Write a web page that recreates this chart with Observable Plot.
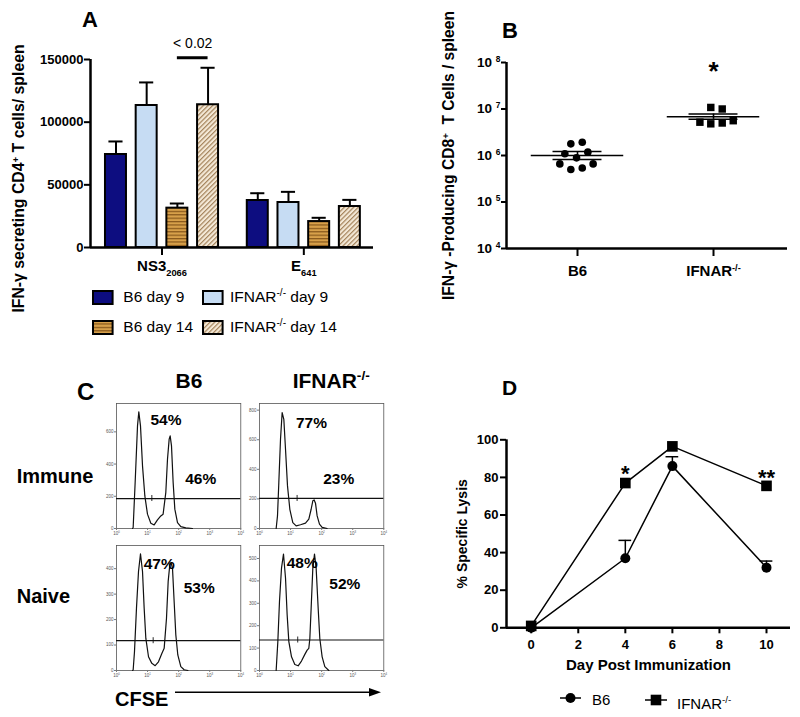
<!DOCTYPE html>
<html><head><meta charset="utf-8">
<script src="https://cdn.jsdelivr.net/npm/d3@7"></script>
<script src="https://cdn.jsdelivr.net/npm/@observablehq/plot@0.6"></script>
<style>
body{margin:0;background:#fff;font-family:"Liberation Sans",Arial,Helvetica,sans-serif;}
#fig{position:relative;width:800px;height:717px;overflow:hidden;background:#fff;}
.lbl{position:absolute;line-height:1;white-space:nowrap;color:#000;}
.lbl sup,.lbl sub{line-height:0;font-size:65%;}
</style></head><body>
<svg width="0" height="0" style="position:absolute">
<defs>
<pattern id="patStripe" patternUnits="userSpaceOnUse" width="6" height="3.4">
<rect width="6" height="3.4" fill="#d7a04a"/><rect width="6" height="1.2" fill="#86561a"/>
</pattern>
<pattern id="patHatch" patternUnits="userSpaceOnUse" width="3.3" height="3.3" patternTransform="rotate(45)">
<rect width="3.3" height="3.3" fill="#f4e9d7"/><rect width="1.2" height="3.3" fill="#a5845c"/>
</pattern>
</defs></svg>
<div id="fig"></div>
<script>
// ---------------- DATA ----------------
// Panel A
const groupsA = ["NS3_{2066}", "E_{641}"];
const seriesA = ["B6 day 9", "IFNAR^{-/-} day 9", "B6 day 14", "IFNAR^{-/-} day 14"];
const fillsA = ["#0d0d80", "#c6dcf3", "url(#patStripe)", "url(#patHatch)"];
const ns3MeansA = [74200, 113300, 31400, 113900];
const ns3ErrTopA = [84600, 131700, 35100, 143400];
const e641MeansA = [37500, 35900, 20700, 32700];
const e641ErrTopA = [43300, 44400, 23700, 38000];
const yTicksA = [0, 50000, 100000, 150000];
const sigPairA = ["B6 day 14", "IFNAR^{-/-} day 14"];
const sigLabelA = "< 0.02";
const sigLevelA = [151400, 162800]; // bar, label
const yLabelA = "IFN-γ secreting CD4^{+} T cells/ spleen";

// Panel B
const groupsB = ["B6", "IFNAR^{-/-}"];
const b6ValuesB = [1.78e6, 1.93e6, 1.09e6, 0.89e6, 1.18e6, 0.66e6, 0.50e6, 0.54e6, 0.66e6];
const b6JitterB = [-0.049, 0.035, -0.093, -0.007, 0.076, -0.13, -0.049, 0.035, 0.115];
const ifnarValuesB = [1.08e7, 1.0e7, 5.2e6, 4.8e6, 5.0e6, 5.6e6];
const ifnarJitterB = [-0.02, 0.064, -0.1, -0.02, 0.064, 0.145];
const meanB = [1.0e6, 6.8e6];
const semHiB = [1.22e6, 7.8e6];
const semLoB = [0.82e6, 6.0e6];
const yTicksB = [1e4, 1e5, 1e6, 1e7, 1e8];
const starB = [{g: 2, y: 6.3e7, t: "*"}];
const yLabelB = "IFN-γ -Producing CD8^{+}  T Cells / spleen";

// Panel C (x = log10 CFSE, y = count)
const histB6Immune = [[0.515,0],[0.536,6],[0.60,286],[0.676,637],[0.718,724],[0.772,637],[0.837,389],[0.912,202],[0.997,89],[1.105,33],[1.212,22],[1.319,53],[1.426,78],[1.50,89],[1.587,224],[1.641,430],[1.695,555],[1.727,575],[1.77,513],[1.823,286],[1.877,120],[1.963,37],[2.07,12],[2.23,4],[2.445,0]];
const histIfnarImmune = [[0.536,0],[0.579,85],[0.622,311],[0.676,603],[0.729,784],[0.783,738],[0.837,536],[0.901,288],[0.976,130],[1.072,40],[1.18,18],[1.319,25],[1.48,36],[1.587,63],[1.662,130],[1.716,187],[1.759,193],[1.802,171],[1.855,85],[1.93,29],[2.016,7],[2.177,0]];
const histB6Naive = [[0.515,0],[0.536,2],[0.579,74],[0.643,245],[0.708,389],[0.772,458],[0.837,389],[0.89,245],[0.944,126],[1.03,54],[1.137,28],[1.244,19],[1.351,34],[1.459,67],[1.534,87],[1.609,205],[1.663,350],[1.716,416],[1.759,422],[1.802,402],[1.855,271],[1.909,140],[1.973,61],[2.07,15],[2.177,3],[2.3,0]];
const histIfnarNaive = [[0.536,0],[0.59,129],[0.643,308],[0.708,457],[0.772,520],[0.837,413],[0.89,248],[0.944,129],[1.03,61],[1.137,27],[1.244,21],[1.351,42],[1.459,72],[1.534,91],[1.587,99],[1.62,143],[1.662,278],[1.716,457],[1.77,520],[1.823,457],[1.888,278],[1.941,143],[2.016,61],[2.102,17],[2.23,0]];
const histCurves = [histB6Immune, histIfnarImmune, histB6Naive, histIfnarNaive];
const histYMax = [776, 845, 491, 558];
const histYTicks = [[0,200,400,600],[0,200,400,600,800],[0,100,200,300,400],[0,100,200,300,400,500]];
const histXTicks = [0, 1, 2, 3, 4];
const gateLevels = [186, 203, 117, 136];
const gateMarks = [1.137, 1.21, 1.18, 1.23];
const pctText = [["54%","46%"],["77%","23%"],["47%","53%"],["48%","52%"]];
const pctX = [[1.59,2.71],[1.673,2.55],[1.373,2.66],[1.373,2.745]];
const pctY = [[673,310],[716,333],[418,323],[480,386]];
const colHeadersC = ["B6", "IFNAR^{-/-}"];
const rowHeadersC = ["Immune", "Naive"];

// Panel D
const daysD = [0, 4, 6, 10];
const b6LysisD = [0, 37, 86, 32];
const b6ErrTopD = [null, 46.5, 91, 35.5];
const ifnarLysisD = [1, 77, 96.5, 75.5];
const starsD = [{day: 4, y: 81.7, t: "*"}, {day: 10, y: 79.7, t: "**"}];
const xTicksD = [0, 2, 4, 6, 8, 10];
const yTicksD = [0, 20, 40, 60, 80, 100];

// ---------------- HELPERS ----------------
const FONT = "'Liberation Sans', Arial, Helvetica, sans-serif";
const fig = document.getElementById("fig");
const svgStyle = (w) => `font-family:${FONT};font-size:13px;font-weight:${w};background:transparent;overflow:visible;color:#000`;
function mk(t){const e=document.createElementNS("http://www.w3.org/2000/svg","tspan");e.textContent=t;return e;}
function richify(root){
  const re=/([_^])\{([^}]*)\}/g;
  root.querySelectorAll("text, tspan").forEach(el=>{
    if([...el.childNodes].some(n=>n.nodeType!==3)) return;
    const s=el.textContent; if(!/[_^]\{/.test(s)) return;
    el.textContent=""; let last=0,m; re.lastIndex=0;
    while((m=re.exec(s))){
      if(m.index>last) el.appendChild(mk(s.slice(last,m.index)));
      const ts=mk(m[2]);
      ts.setAttribute("baseline-shift", m[1]==="^"?"super":"sub");
      ts.setAttribute("font-size","62%");
      el.appendChild(ts); last=re.lastIndex;
    }
    if(last<s.length) el.appendChild(mk(s.slice(last)));
  });
}
const toHTML = s => s.replace(/\^\{([^}]*)\}/g,"<sup>$1</sup>").replace(/_\{([^}]*)\}/g,"<sub>$1</sub>");
function place(el,left,top){el.style.position="absolute";el.style.left=left+"px";el.style.top=top+"px";fig.appendChild(el);richify(el);}
function addLabel(text,x,baseline,fs,weight="bold",anchor="start"){
  const d=document.createElement("div");d.className="lbl";d.innerHTML=toHTML(text);
  d.style.left=x+"px";d.style.top=(baseline-0.8465*fs)+"px";d.style.fontSize=fs+"px";d.style.fontWeight=weight;
  if(anchor==="middle") d.style.transform="translateX(-50%)";
  fig.appendChild(d);
}
function addSvg(html,left,top,w,h){
  const d=document.createElement("div");d.style.position="absolute";d.style.left=left+"px";d.style.top=top+"px";
  d.innerHTML=`<svg width="${w}" height="${h}" style="display:block;overflow:visible">${html}</svg>`;fig.appendChild(d);
}

// ---------------- PANEL A ----------------
const groupGapA = 4.62, halfBarA = 0.342, halfCapA = 0.23;
const barsA = [];
[[ns3MeansA, ns3ErrTopA], [e641MeansA, e641ErrTopA]].forEach(([means, errs], gi) =>
  seriesA.forEach((s, si) => barsA.push({group: groupsA[gi], series: s, pos: gi*groupGapA + si, value: means[si], err: errs[si], fill: fillsA[si]})));
const xMinA = -0.83;
const sigA = [{x1: seriesA.indexOf(sigPairA[0]), x2: seriesA.indexOf(sigPairA[1]), y: sigLevelA[0], ly: sigLevelA[1], t: sigLabelA}];
const plotA = Plot.plot({
  width: 400, height: 290, marginLeft: 90, marginRight: 27, marginTop: 59, marginBottom: 43,
  x: {domain: [xMinA, 8.39]}, y: {domain: [0, 150000]}, color: {type: "identity"},
  style: svgStyle("bold"),
  marks: [
    Plot.rectY(barsA, {x1: d => d.pos - halfBarA, x2: d => d.pos + halfBarA, y1: 0, y2: "value", fill: "fill", stroke: "black", strokeWidth: 2}),
    Plot.ruleX(barsA, {x: "pos", y1: "value", y2: "err", stroke: "black", strokeWidth: 2}),
    Plot.ruleY(barsA, {x1: d => d.pos - halfCapA, x2: d => d.pos + halfCapA, y: "err", stroke: "black", strokeWidth: 2}),
    Plot.ruleY([0], {stroke: "black", strokeWidth: 2.5}),
    Plot.ruleX([xMinA], {y1: 0, y2: 150000, stroke: "black", strokeWidth: 2.5}),
    Plot.axisY({ticks: yTicksA, tickFormat: d3.format("d"), tickSize: 6, tickPadding: 1, strokeWidth: 2, fontSize: 13, label: null}),
    Plot.axisX({ticks: groupsA.map((g, i) => i*groupGapA + 1.5), tickFormat: d => groupsA[d < 3 ? 0 : 1], tickSize: 8, tickPadding: 5, strokeWidth: 2, fontSize: 15, label: null}),
    Plot.ruleY(sigA, {x1: "x1", x2: "x2", y: "y", stroke: "black", strokeWidth: 3}),
    Plot.text(sigA, {x: d => (d.x1 + d.x2)/2, y: "ly", text: "t", fontSize: 14, fontWeight: "normal"}),
    Plot.text([yLabelA], {frameAnchor: "left", rotate: -90, dx: -72, dy: 25, textAnchor: "middle", lineAnchor: "middle", fontSize: 15.8})
  ]
});
place(plotA, 0, 0);

// legend A
const legPosA = [[91.7, 290], [202.3, 290], [91.7, 320], [202.3, 320]];
const legTextX = [123.3, 230, 123.3, 230];
seriesA.forEach((s, i) => {
  const [lx, ly] = legPosA[i];
  addSvg(`<rect x="1" y="1" width="19.6" height="13" fill="${fillsA[i]}" stroke="black" stroke-width="2"/>`, lx, ly, 22, 15);
  addLabel(s, legTextX[i], ly + 12, 15.5, "normal");
});

// ---------------- PANEL B ----------------
const pointsB = [
  ...b6ValuesB.map((v, i) => ({x: 1 + b6JitterB[i], y: v, g: "B6"})),
  ...ifnarValuesB.map((v, i) => ({x: 2 + ifnarJitterB[i], y: v, g: "IFNAR"}))
];
const statsB = meanB.map((m, i) => ({g: i + 1, mean: m, hi: semHiB[i], lo: semLoB[i]}));
const xMinB = 0.478;
const plotB = Plot.plot({
  width: 400, height: 290, marginLeft: 106, marginRight: 13, marginTop: 62, marginBottom: 42,
  x: {domain: [xMinB, 2.544]}, y: {type: "log", domain: [1e4, 1e8]},
  style: svgStyle("bold"),
  marks: [
    Plot.dot(pointsB.filter(d => d.g === "B6"), {x: "x", y: "y", r: 3.8, fill: "black", symbol: "circle"}),
    Plot.dot(pointsB.filter(d => d.g !== "B6"), {x: "x", y: "y", r: 4.2, fill: "black", symbol: "square"}),
    Plot.ruleY(statsB, {x1: d => d.g - 0.34, x2: d => d.g + 0.34, y: "mean", stroke: "black", strokeWidth: 1.6}),
    Plot.ruleY(statsB, {x1: d => d.g - 0.18, x2: d => d.g + 0.18, y: "hi", stroke: "black", strokeWidth: 1.6}),
    Plot.ruleY(statsB, {x1: d => d.g - 0.18, x2: d => d.g + 0.18, y: "lo", stroke: "black", strokeWidth: 1.6}),
    Plot.ruleX(statsB, {x: "g", y1: "lo", y2: "hi", stroke: "black", strokeWidth: 1.6}),
    Plot.ruleY([1e4], {stroke: "black", strokeWidth: 2.5}),
    Plot.ruleX([xMinB], {y1: 1e4, y2: 1e8, stroke: "black", strokeWidth: 2.5}),
    Plot.axisY({ticks: yTicksB, tickFormat: d => `10 ^{${Math.round(Math.log10(d))}}`, tickSize: 5, tickPadding: 1, strokeWidth: 2, fontSize: 13.5, label: null}),
    Plot.axisX({ticks: [1, 2], tickFormat: d => groupsB[d - 1], tickSize: 8, tickPadding: 9, strokeWidth: 2, fontSize: 15, label: null}),
    Plot.text(starB, {x: "g", y: "y", text: "t", fontSize: 26}),
    Plot.text([yLabelB], {frameAnchor: "left", rotate: -90, dx: -58, dy: 0, textAnchor: "middle", lineAnchor: "middle", fontSize: 15.6})
  ]
});
place(plotB, 400, 0);

// ---------------- PANEL C ----------------
const histLeft = [100, 243], histTop = [396.5, 538.5];
histCurves.forEach((curve, k) => {
  const row = Math.floor(k/2), col = k % 2;
  const data = curve.map(([x, y]) => ({x, y}));
  const tickHalf = 3 * histYMax[k] / 125;
  const pct = pctText[k].map((t, j) => ({t, x: pctX[k][j], y: pctY[k][j]}));
  const p = Plot.plot({
    width: 145.3, height: 141, marginLeft: 16, marginRight: 5, marginTop: 6, marginBottom: 10,
    x: {domain: [0, 4]}, y: {domain: [0, histYMax[k]]},
    style: svgStyle("normal"),
    marks: [
      Plot.frame({stroke: "#555", strokeWidth: 0.8}),
      Plot.axisX({ticks: histXTicks, tickFormat: d => `10^{${d}}`, tickSize: 2, tickPadding: 1, fontSize: 4.5, stroke: "#777", fill: "#555", label: null}),
      Plot.axisY({ticks: histYTicks[k], tickSize: 2, tickPadding: 1, fontSize: 4.5, stroke: "#777", fill: "#555", label: null}),
      Plot.line(data, {x: "x", y: "y", stroke: "#111", strokeWidth: 1.2}),
      Plot.ruleY([gateLevels[k]], {stroke: "#111", strokeWidth: 1.2}),
      Plot.ruleX([gateMarks[k]], {y1: gateLevels[k] - tickHalf, y2: gateLevels[k] + tickHalf, stroke: "#111", strokeWidth: 0.9}),
      Plot.text(pct, {x: "x", y: "y", text: "t", fontSize: 15.5, fontWeight: "bold"})
    ]
  });
  place(p, histLeft[col], histTop[row]);
});
addLabel("C", 77, 400, 24);
addLabel(colHeadersC[0], 189, 388, 21, "bold", "middle");
addLabel(colHeadersC[1], 292.7, 388, 21);
addLabel(rowHeadersC[0], 16.7, 483.3, 20);
addLabel(rowHeadersC[1], 16.7, 603, 20);
addLabel("CFSE", 115, 705.7, 20);
addSvg(`<line x1="5" y1="7.3" x2="201" y2="7.3" stroke="black" stroke-width="1.5"/><polygon points="199,3 211,7.3 199,11.6" fill="black"/>`, 170, 685, 215, 15);

// ---------------- PANEL D ----------------
const dataD = daysD.map((d, i) => ({day: d, b6: b6LysisD[i], b6e: b6ErrTopD[i], ifn: ifnarLysisD[i]}));
const errD = dataD.filter(d => d.b6e != null);
const xMinD = -1.05;
const plotD = Plot.plot({
  width: 400, height: 330, marginLeft: 106, marginRight: 10, marginTop: 99.3, marginBottom: 42.7,
  x: {domain: [xMinD, 11.02]}, y: {domain: [0, 100]},
  style: svgStyle("bold"),
  marks: [
    Plot.ruleX(errD, {x: "day", y1: "b6", y2: "b6e", stroke: "black", strokeWidth: 1.5}),
    Plot.ruleY(errD, {x1: d => d.day - 0.27, x2: d => d.day + 0.27, y: "b6e", stroke: "black", strokeWidth: 1.5}),
    Plot.line(dataD, {x: "day", y: "b6", stroke: "black", strokeWidth: 1.5}),
    Plot.line(dataD, {x: "day", y: "ifn", stroke: "black", strokeWidth: 1.5}),
    Plot.ruleY([0], {stroke: "black", strokeWidth: 2.5}),
    Plot.ruleX([xMinD], {y1: 0, y2: 100, stroke: "black", strokeWidth: 2.5}),
    Plot.dot(dataD, {x: "day", y: "b6", r: 5, fill: "black", symbol: "circle"}),
    Plot.dot(dataD, {x: "day", y: "ifn", r: 6, fill: "black", symbol: "square"}),
    Plot.axisY({ticks: yTicksD, tickSize: 6, tickPadding: 2, strokeWidth: 2, fontSize: 13, label: null}),
    Plot.axisX({ticks: xTicksD, tickSize: 6, tickPadding: 6, strokeWidth: 2, fontSize: 13, label: null}),
    Plot.text(starsD, {x: "day", y: "y", text: "t", fontSize: 22}),
    Plot.text(["% Specific Lysis"], {frameAnchor: "left", rotate: -90, dx: -44, textAnchor: "middle", lineAnchor: "middle", fontSize: 14}),
    Plot.text(["Day Post Immunization"], {frameAnchor: "bottom", dy: 37, textAnchor: "middle", lineAnchor: "middle", fontSize: 15})
  ]
});
place(plotD, 400, 340);

// legend D
addSvg(`<line x1="0" y1="7" x2="21" y2="7" stroke="black" stroke-width="1.5"/><circle cx="10.5" cy="7" r="5" fill="black"/>`, 559.5, 691.3, 21, 14);
addLabel("B6", 592, 704.3, 15, "normal");
addSvg(`<line x1="0" y1="7" x2="22" y2="7" stroke="black" stroke-width="1.5"/><rect x="5.7" y="1.7" width="10.6" height="10.6" fill="black"/>`, 645, 693, 22, 14);
addLabel("IFNAR^{-/-}", 677, 708.3, 15, "normal");

// panel letters
addLabel("A", 82, 28, 22);
addLabel("B", 502, 39, 22);
addLabel("D", 502, 395, 21);
</script>
</body></html>
